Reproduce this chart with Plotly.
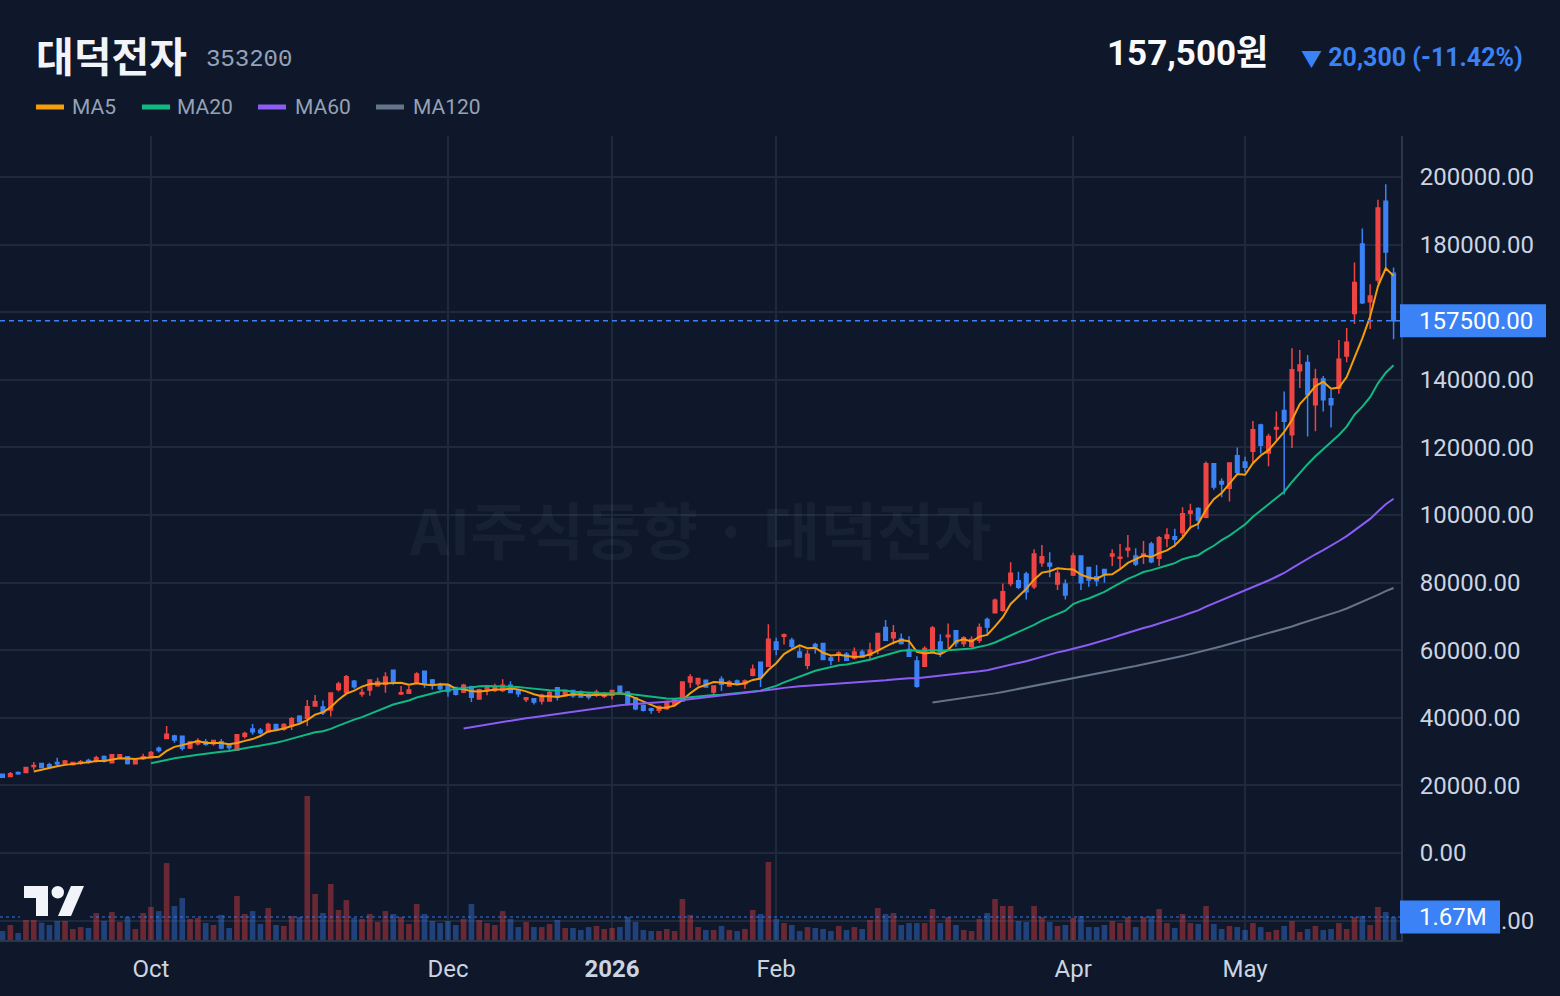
import plotly.graph_objects as go
import pandas as pd

# ---------------- data ----------------
tick_positions = [19, 57, 78, 99, 137, 159]
tick_labels = ["Oct", "Dec", "<b>2026</b>", "Feb", "Apr", "May"]
price_ticks = list(range(-20000, 200001, 20000))

opens = [23300, 22650, 23800, 23800, 25600, 26500, 26100, 26800, 26400, 26200,
         26600, 27400, 27250, 28550, 26700, 28050, 28450, 26400, 27850, 28250,
         31000, 33850, 34650, 34550, 31100, 32300, 32950, 32300, 32950, 31700,
         30400, 34550, 36700, 36300, 35900, 38000, 36600, 37600, 40450, 39850,
         43500, 43200, 42300, 48400, 47500, 50850, 47050, 48200, 49500, 49950,
         54100, 47050, 47250, 50350, 53800, 51150, 49700, 49750, 48950, 47600,
         49150, 45550, 48100, 48100, 48100, 49600, 48100, 45450, 45650, 44950,
         44950, 48900, 46550, 48100, 47600, 46950, 46650, 46350, 46650, 49300,
         47600, 45850, 43650, 42650, 42200, 42650, 43950, 44950, 50600, 50100,
         51100, 47600, 51400, 49400, 50900, 50100, 52600, 56450, 55250, 62400,
         64150, 62950, 59500, 55550, 61700, 62000, 57700, 58700, 58800, 57700,
         59500, 58500, 60000, 66750, 63650, 63300, 60200, 56800, 55250, 59500,
         62450, 63950, 65750, 61950, 61200, 62950, 69100, 71050, 71850, 79750,
         80550, 82550, 78800, 85900, 85700, 79550, 79550, 82250, 87850, 84500,
         81750, 83900, 87850, 87200, 89650, 87850, 87850, 91450, 87200, 93100,
         93600, 94800, 100550, 101900, 99350, 115150, 109900, 107950, 117550, 115700,
         118850, 126600, 118350, 125450, 130950, 123750, 142650, 145100, 132600, 140200,
         134400, 137550, 147050, 159650, 180150, 163100, 169500, 192800, 171500]
highs = [23400, 24000, 24100, 25400, 26950, 26700, 26700, 28150, 27550, 27000,
         27500, 27850, 28750, 28850, 29250, 29150, 28650, 27550, 29350, 30200,
         31500, 37600, 34950, 34750, 33150, 33950, 33750, 33450, 33750, 32300,
         35150, 35900, 38200, 37000, 38500, 38200, 38400, 40250, 40750, 45250,
         46750, 45150, 47500, 50700, 52650, 51150, 48700, 51350, 51850, 53500,
         54300, 49400, 49400, 53500, 54000, 51450, 50350, 50100, 49200, 50100,
         49450, 48600, 49600, 50100, 51400, 50800, 48300, 46150, 45850, 47150,
         48300, 49100, 48300, 48300, 48100, 47350, 48300, 47600, 48300, 49500,
         47900, 46150, 43950, 42950, 43650, 45150, 45650, 50800, 52850, 51800,
         51300, 49600, 52300, 51100, 51300, 51300, 55750, 56550, 67700, 63650,
         64950, 63650, 61000, 60000, 62200, 62100, 58200, 59700, 59500, 60800,
         60200, 62200, 65150, 68900, 67450, 64950, 64150, 58200, 61200, 67150,
         64750, 67900, 65900, 64150, 64150, 67900, 69700, 75300, 79750, 86000,
         83200, 83200, 89850, 91150, 88950, 83700, 80950, 88850, 88050, 84700,
         85200, 84100, 89850, 91450, 94100, 90150, 92300, 92100, 93800, 96100,
         95900, 102300, 103300, 102300, 115850, 115350, 110900, 115550, 120000, 117250,
         127800, 127000, 124050, 130650, 136550, 149350, 148850, 147350, 143250, 141150,
         137050, 151800, 155350, 174700, 184750, 168300, 193300, 197850, 173250]
lows = [22300, 22600, 23150, 23800, 24600, 25100, 25100, 25800, 26200, 25900,
        26100, 26400, 26800, 26800, 26500, 27950, 26200, 26200, 27550, 28050,
        29700, 33650, 32650, 30300, 30800, 31800, 31700, 31700, 30700, 30400,
        30200, 33850, 34950, 35050, 35600, 36100, 36200, 36400, 38500, 37600,
        43300, 40850, 40350, 47750, 46950, 48600, 46250, 46550, 49200, 47400,
        49800, 46750, 47050, 50150, 48900, 48400, 48000, 46250, 46600, 47300,
        44650, 45450, 46650, 47600, 47600, 47350, 46150, 44650, 43950, 43950,
        44850, 45150, 46350, 45950, 45950, 45450, 46150, 45850, 45450, 46950,
        43650, 42200, 41900, 41200, 41400, 42400, 43350, 44750, 48900, 49300,
        48900, 46950, 47900, 49100, 49600, 48600, 52300, 49100, 55050, 58500,
        61700, 60500, 57700, 54350, 59000, 57000, 55550, 56550, 56850, 57250,
        57800, 57250, 58800, 62750, 61700, 61700, 58000, 48900, 55050, 59300,
        58000, 60500, 61000, 61000, 60800, 62150, 64750, 70850, 71350, 78950,
        78000, 75000, 78100, 84700, 81550, 77800, 75000, 81950, 77800, 78800,
        78950, 79950, 84900, 84200, 87500, 84900, 85500, 85700, 84900, 90450,
        90650, 93800, 95800, 95800, 99050, 107450, 105250, 104000, 112200, 112650,
        115450, 118200, 114400, 122300, 106050, 119800, 137550, 123250, 124750, 130650,
        125900, 135850, 145200, 156500, 162400, 155050, 168500, 172650, 152000]
closes = [22400, 23450, 23450, 25300, 25900, 25300, 25500, 26400, 27250, 26800,
          27000, 26900, 28150, 27150, 29050, 29050, 26500, 27350, 28450, 29700,
          30300, 35150, 33450, 31000, 32850, 33150, 32200, 33250, 31100, 31200,
          34950, 35350, 35900, 35600, 38000, 36600, 38000, 39750, 38850, 43300,
          44750, 41500, 47300, 50000, 52150, 49200, 47500, 51150, 50650, 52050,
          50650, 47400, 48200, 52950, 50150, 49600, 48600, 47800, 46950, 49650,
          46100, 48300, 48900, 48900, 49600, 47500, 47150, 45950, 44650, 46650,
          47450, 46150, 48100, 46550, 46150, 46150, 47600, 47150, 48100, 47150,
          43950, 42650, 42200, 42200, 43350, 44850, 45450, 50600, 52100, 51600,
          49100, 49400, 49900, 50600, 50300, 50900, 54350, 51900, 63250, 60300,
          64550, 61200, 58000, 58800, 61000, 57250, 57050, 59200, 57050, 59500,
          58000, 60000, 64950, 62950, 65150, 62000, 58200, 49300, 60500, 66550,
          59500, 64450, 62150, 63650, 63150, 66700, 66900, 74800, 77300, 82750,
          78600, 77300, 88450, 87650, 84900, 82750, 76300, 87850, 79950, 80750,
          80550, 82550, 88450, 87500, 90150, 85500, 88450, 86200, 93300, 94100,
          92800, 100350, 101200, 98550, 115150, 108250, 109200, 115350, 112650, 114150,
          125250, 120650, 123250, 125900, 127700, 142950, 144400, 135550, 140200, 134100,
          132600, 146100, 151100, 168800, 162800, 164800, 190850, 177800, 157500]
volumes_m = [0.65, 1.09, 0.51, 2.69, 2.40, 1.26, 1.09, 1.38, 1.38, 0.80,
             0.94, 0.87, 1.96, 1.38, 2.03, 1.31, 1.67, 0.80, 1.96, 2.40,
             2.10, 5.59, 2.47, 3.05, 1.53, 1.60, 1.23, 1.09, 1.82, 0.87,
             3.20, 1.89, 2.10, 1.16, 2.32, 1.09, 1.02, 1.74, 1.67, 10.46,
             3.34, 1.96, 4.07, 2.18, 2.90, 1.60, 1.53, 1.89, 1.31, 2.10,
             1.89, 1.67, 1.16, 2.61, 1.89, 1.38, 1.23, 1.38, 1.09, 1.53,
             2.61, 1.45, 1.23, 1.09, 2.10, 1.53, 0.94, 1.31, 0.94, 0.94,
             1.16, 1.45, 0.87, 0.87, 0.73, 0.94, 1.02, 0.80, 0.87, 0.94,
             1.67, 1.31, 0.73, 0.65, 0.65, 0.80, 0.65, 2.98, 1.82, 0.94,
             0.73, 0.73, 1.02, 0.73, 0.65, 0.80, 2.18, 1.89, 5.67, 1.53,
             1.23, 1.09, 0.65, 0.94, 0.87, 0.80, 0.65, 1.02, 0.73, 0.94,
             0.80, 1.45, 2.32, 1.89, 1.96, 1.09, 1.23, 1.23, 1.23, 2.25,
             1.23, 1.67, 1.09, 0.73, 0.65, 1.53, 1.96, 2.98, 2.47, 2.47,
             1.38, 1.31, 2.47, 1.67, 1.31, 1.02, 1.09, 1.60, 1.74, 0.94,
             0.94, 1.09, 1.38, 1.23, 1.67, 0.94, 1.67, 1.74, 2.25, 1.23,
             0.87, 1.89, 1.23, 1.16, 2.47, 1.16, 0.80, 1.02, 0.94, 0.73,
             1.23, 0.94, 0.58, 0.73, 1.02, 1.38, 0.58, 0.80, 1.02, 0.73,
             0.80, 1.23, 0.80, 1.67, 1.74, 1.09, 2.40, 2.03, 1.67]
ma_periods = [5, 20, 60, 120]
ma_names = ["MA5", "MA20", "MA60", "MA120"]
stock_name = "대덕전자"
stock_code = "353200"
watermark = "AI주식동향 · 대덕전자"

# ---------------- style ----------------
W, H = 1560, 996
PL, PR, PT, PB = 0, 1401, 136, 940
BG = "#0f172a"
GRID = "#1e293b"
AXIS = "#2b3648"
TXT = "#cbd5e1"
RED, BLUE = "#ef4444", "#3b82f6"
MA_COLORS = ["#f59e0b", "#10b981", "#8b5cf6", "#64748b"]
NUMFONT = "Roboto, Noto Sans CJK KR, sans-serif"
KRFONT = "Noto Sans CJK KR, sans-serif"

PRICE_MIN, PRICE_MAX = -25740, 212130
VOL_MAX = 58.4


def fx(x):
    return (x - PL) / (PR - PL)


def fy(y):
    return (PB - y) / (PB - PT)


def poly(points):
    return "M " + " L ".join(f"{fx(x):.5f},{fy(y):.5f}" for x, y in points) + " Z"


n = len(closes)
idx = list(range(n))
s = pd.Series(closes, dtype=float)
mas = {p: s.rolling(p).mean() for p in ma_periods}
up = [c >= o for o, c in zip(opens, closes)]
vol_colors = ["rgba(239,68,68,0.40)" if u else "rgba(59,130,246,0.40)" for u in up]

last_close = closes[-1]
prev_close = closes[-2]

# price tick labels; the one hidden behind the last-price label is left blank
price_ticktext = []
for v in price_ticks:
    if abs(v - last_close) < 6000:
        price_ticktext.append("")
    else:
        price_ticktext.append(f"{v:.2f}".replace("-", "\u2212"))

fig = go.Figure()
fig.add_trace(go.Bar(x=idx, y=volumes_m, marker=dict(color=vol_colors, line=dict(width=0)),
                     width=0.72, yaxis="y2", hoverinfo="skip"))
fig.add_trace(go.Candlestick(
    x=idx, open=opens, high=highs, low=lows, close=closes,
    increasing=dict(line=dict(color=RED, width=1.5), fillcolor=RED),
    decreasing=dict(line=dict(color=BLUE, width=1.5), fillcolor=BLUE),
    whiskerwidth=0, hoverinfo="skip"))
for p, col in zip(ma_periods, MA_COLORS):
    fig.add_trace(go.Scatter(x=idx, y=mas[p], mode="lines",
                             line=dict(color=col, width=2), hoverinfo="skip"))

shapes = []
annotations = []

# last price line + label
shapes.append(dict(type="line", xref="paper", yref="y", x0=0, x1=1, y0=last_close, y1=last_close,
                   line=dict(color=BLUE, width=1.5, dash="5px,4px"), layer="above"))
ylab = 853 - last_close / 200000 * 676
shapes.append(dict(type="rect", xref="paper", yref="paper", x0=fx(1400), x1=fx(1546),
                   y0=fy(ylab + 16.5), y1=fy(ylab - 16.5), fillcolor=BLUE, line=dict(width=0), layer="above"))
annotations.append(dict(xref="paper", yref="paper", x=fx(1417), y=fy(ylab), xanchor="left", yanchor="middle",
                        text=f"{last_close:.2f}", showarrow=False,
                        font=dict(family=NUMFONT, size=24, color="#ffffff")))

# last volume line + label
last_vol = volumes_m[-1]
shapes.append(dict(type="line", xref="paper", yref="y2", x0=0, x1=1, y0=last_vol, y1=last_vol,
                   line=dict(color="rgba(59,130,246,0.6)", width=1.5, dash="3px,3px"), layer="above"))
yv = PB - last_vol / VOL_MAX * (PB - PT)
shapes.append(dict(type="rect", xref="paper", yref="paper", x0=fx(1400), x1=fx(1500),
                   y0=fy(yv + 16.5), y1=fy(yv - 16.5), fillcolor=BLUE, line=dict(width=0), layer="above"))
annotations.append(dict(xref="paper", yref="paper", x=fx(1417), y=fy(yv), xanchor="left", yanchor="middle",
                        text=f"{last_vol:.2f}M", showarrow=False,
                        font=dict(family=NUMFONT, size=24, color="#ffffff")))

# logo
shapes.append(dict(type="rect", xref="paper", yref="paper", x0=fx(20), x1=fx(88), y0=fy(920), y1=fy(881),
                   fillcolor=BG, line=dict(width=0), layer="above"))
LOGO = "#f1f5f9"
shapes.append(dict(type="path", xref="paper", yref="paper",
                   path=poly([(24, 886), (48, 886), (48, 916), (36, 916), (36, 898), (24, 898)]),
                   fillcolor=LOGO, line=dict(width=0), layer="above"))
shapes.append(dict(type="circle", xref="paper", yref="paper", x0=fx(51.5), x1=fx(64), y0=fy(898.5), y1=fy(886),
                   fillcolor=LOGO, line=dict(width=0), layer="above"))
shapes.append(dict(type="path", xref="paper", yref="paper",
                   path=poly([(71, 886), (84, 886), (71, 916), (58, 916)]),
                   fillcolor=LOGO, line=dict(width=0), layer="above"))

# legend
sw_x = [36, 142, 258, 376]
tx_x = [72, 177, 295, 413]
for name, col, sx, tx in zip(ma_names, MA_COLORS, sw_x, tx_x):
    shapes.append(dict(type="rect", xref="paper", yref="paper", x0=fx(sx), x1=fx(sx + 28),
                       y0=fy(109.5), y1=fy(104.5), fillcolor=col, line=dict(width=0), layer="above"))
    annotations.append(dict(xref="paper", yref="paper", x=fx(tx - 2), y=fy(107), xanchor="left",
                            yanchor="middle", text=name, showarrow=False,
                            font=dict(family=NUMFONT, size=21, color="#94a3b8")))

# header
annotations.append(dict(xref="paper", yref="paper", x=fx(34), y=fy(54), xanchor="left", yanchor="middle",
                        text=f"<b>{stock_name}</b>", showarrow=False,
                        font=dict(family=KRFONT, size=41, color="#f1f5f9")))
annotations.append(dict(xref="paper", yref="paper", x=fx(204), y=fy(59), xanchor="left", yanchor="middle",
                        text=stock_code, showarrow=False,
                        font=dict(family="Liberation Mono, DejaVu Sans Mono, monospace", size=24, color="#94a3b8")))
annotations.append(dict(xref="paper", yref="paper", x=fx(1270), y=fy(54), xanchor="right", yanchor="middle",
                        text=f"<b>{last_close:,.0f}원</b>", showarrow=False,
                        font=dict(family=NUMFONT, size=35, color="#f8fafc")))
chg = last_close - prev_close
pct = chg / prev_close * 100
annotations.append(dict(xref="paper", yref="paper", x=fx(1525), y=fy(57), xanchor="right", yanchor="middle",
                        text=f"<b><span style='font-size:21px'>▼</span> {abs(chg):,.0f} ({pct:.2f}%)</b>",
                        showarrow=False, font=dict(family=NUMFONT, size=25, color=BLUE)))

# watermark
annotations.append(dict(xref="paper", yref="paper", x=fx(700), y=fy(528), xanchor="center", yanchor="middle",
                        text=f"<b>{watermark}</b>", showarrow=False,
                        font=dict(family=KRFONT, size=62, color="rgba(148,163,184,0.07)")))

fig.update_layout(
    width=W, height=H,
    margin=dict(l=PL, r=W - PR, t=PT, b=H - PB, pad=0),
    paper_bgcolor=BG, plot_bgcolor=BG,
    showlegend=False, hovermode=False, boxgap=0.35,
    xaxis=dict(range=[-0.32, 178.95], tickmode="array", tickvals=tick_positions, ticktext=tick_labels,
               showgrid=True, gridcolor=GRID, gridwidth=1.5, zeroline=False,
               showline=True, linecolor=AXIS, linewidth=2, ticks="",
               tickfont=dict(family=NUMFONT, size=24, color=TXT), ticklabelstandoff=6,
               rangeslider=dict(visible=False), fixedrange=True),
    yaxis=dict(side="right", range=[PRICE_MIN, PRICE_MAX], tickmode="array",
               tickvals=price_ticks, ticktext=price_ticktext,
               showgrid=True, gridcolor=GRID, gridwidth=1.5, zeroline=False,
               showline=True, linecolor=AXIS, linewidth=2, ticks="",
               tickfont=dict(family=NUMFONT, size=24, color=TXT), ticklabelstandoff=12,
               fixedrange=True),
    yaxis2=dict(overlaying="y", range=[0, VOL_MAX], visible=False, fixedrange=True),
    shapes=shapes, annotations=annotations,
)

fig.write_html("out.html")
